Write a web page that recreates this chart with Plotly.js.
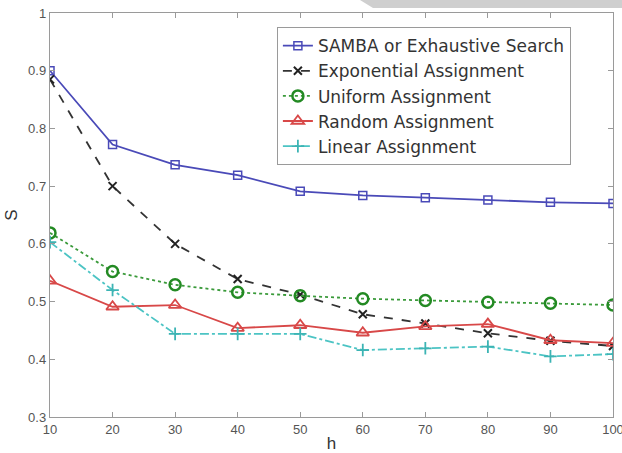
<!DOCTYPE html>
<html>
<head>
<meta charset="utf-8">
<script src="https://cdn.plot.ly/plotly-3.0.1.min.js"></script>
<style>html,body{margin:0;padding:0;background:#fff;}#chart{width:622px;height:453px;}</style>
</head>
<body>
<div id="chart"></div>
<script>
const h = [10, 20, 30, 40, 50, 60, 70, 80, 90, 100];
const samba = [0.900, 0.772, 0.737, 0.719, 0.691, 0.684, 0.680, 0.676, 0.672, 0.670];
const exponential = [0.885, 0.700, 0.600, 0.539, 0.512, 0.478, 0.462, 0.445, 0.432, 0.423];
const uniform = [0.619, 0.552, 0.529, 0.516, 0.510, 0.505, 0.502, 0.499, 0.497, 0.494];
const random = [0.536, 0.491, 0.494, 0.454, 0.459, 0.446, 0.457, 0.461, 0.433, 0.428];
const linear = [0.603, 0.520, 0.444, 0.444, 0.444, 0.416, 0.419, 0.422, 0.405, 0.409];
const names = ['SAMBA or Exhaustive Search', 'Exponential Assignment', 'Uniform Assignment', 'Random Assignment', 'Linear Assignment'];
const xTicks = [10, 20, 30, 40, 50, 60, 70, 80, 90, 100];
const yTicks = [0.3, 0.4, 0.5, 0.6, 0.7, 0.8, 0.9, 1];
const yTickText = ['0.3', '0.4', '0.5', '0.6', '0.7', '0.8', '0.9', '1'];

const traces = [
  {x: h, y: samba, name: names[0], mode: 'lines+markers',
   line: {color: '#4a4ab8', width: 1.8, dash: 'solid'},
   marker: {symbol: 'square-open', size: 8, color: '#4a4ab8', line: {width: 1.5}}},
  {x: h, y: exponential, name: names[1], mode: 'lines+markers',
   line: {color: '#333333', width: 1.8, dash: 'dash'},
   marker: {symbol: 'x-thin-open', size: 8, color: '#222222', line: {width: 2, color: '#222222'}}},
  {x: h, y: uniform, name: names[2], mode: 'lines+markers',
   line: {color: '#3a9a3a', width: 1.8, dash: 'dot'},
   marker: {symbol: 'circle-open', size: 11, color: '#238a23', line: {width: 2.5}}},
  {x: h, y: random, name: names[3], mode: 'lines+markers',
   line: {color: '#d84848', width: 1.8, dash: 'solid'},
   marker: {symbol: 'triangle-up-open', size: 11, color: '#d84848', line: {width: 1.8}}},
  {x: h, y: linear, name: names[4], mode: 'lines+markers',
   line: {color: '#4cc4c4', width: 1.8, dash: 'dashdot'},
   marker: {symbol: 'cross-thin-open', size: 9, color: '#3cb4b4', line: {width: 1.8, color: '#3cb4b4'}}}
];

const axisCommon = {
  showgrid: false, zeroline: false, showline: true, mirror: 'ticks',
  linecolor: '#9a9a9a', linewidth: 1.2, ticks: 'inside', ticklen: 5,
  tickcolor: '#9a9a9a', tickwidth: 1, ticklabeloverflow: 'allow',
  tickfont: {family: 'Liberation Sans, Arial, sans-serif', size: 13, color: '#555555'}
};

const layout = {
  width: 622, height: 453,
  margin: {l: 50, r: 9, t: 13, b: 36},
  paper_bgcolor: '#ffffff', plot_bgcolor: '#ffffff',
  showlegend: true,
  xaxis: Object.assign({}, axisCommon, {
    range: [10, 100], tickvals: xTicks, ticktext: xTicks.map(String),
    ticklabelstandoff: 0,
    title: {text: 'h', font: {family: 'Liberation Sans, Arial, sans-serif', size: 17, color: '#333'}, standoff: 4}
  }),
  yaxis: Object.assign({}, axisCommon, {
    range: [0.3, 1], tickvals: yTicks, ticktext: yTickText,
    title: {text: 'S', font: {family: 'Liberation Sans, Arial, sans-serif', size: 17, color: '#333'}, standoff: 6}
  }),
  legend: {
    x: 0.403, y: 0.965, xanchor: 'left', yanchor: 'top',
    bgcolor: '#ffffff', bordercolor: '#9a9a9a', borderwidth: 1,
    font: {family: 'DejaVu Sans, sans-serif', size: 17, color: '#333'},
    tracegroupgap: 0, itemwidth: 30
  },
  shapes: [{
    type: 'path', xref: 'paper', yref: 'paper', layer: 'above',
    path: 'M 0.5506 1.0322 L 0.5737 1.0124 L 1.02 1.0124 L 1.02 1.0322 Z',
    fillcolor: '#cfcfcf', line: {width: 0}
  }]
};

Plotly.newPlot('chart', traces, layout, {displayModeBar: false, staticPlot: true});
</script>
</body>
</html>
